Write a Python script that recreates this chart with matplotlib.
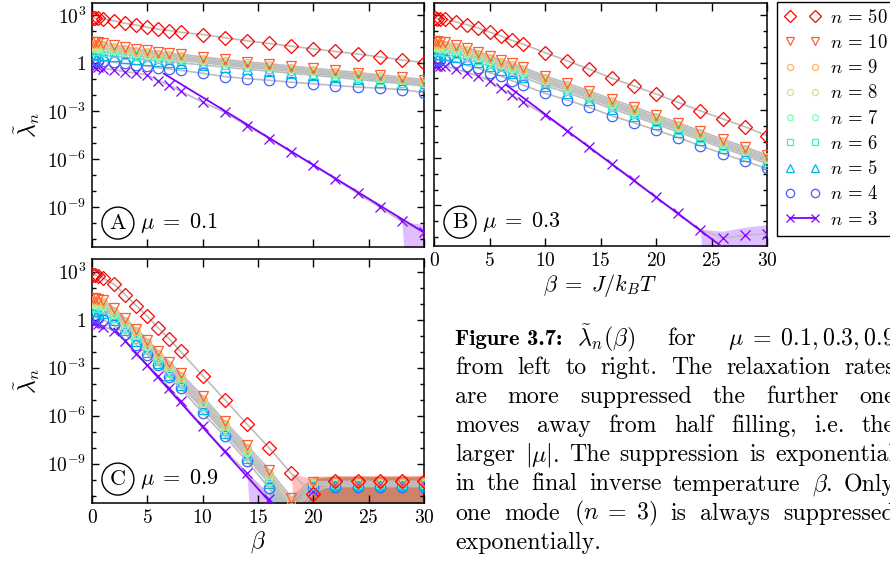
import numpy as np
import matplotlib.pyplot as plt
from matplotlib.lines import Line2D
from matplotlib.ticker import NullFormatter

plt.rcParams.update({
    "font.family": "serif",
    "font.serif": ["cmr10"],
    "mathtext.fontset": "cm",
    "axes.unicode_minus": False,
    "axes.linewidth": 1.1,
    "xtick.direction": "in",
    "ytick.direction": "in",
    "xtick.top": True,
    "ytick.right": True,
})

W, H = 890, 569

beta = [0.1, 0.3, 0.5, 1, 2, 3, 4, 5, 6, 7, 8, 10, 12, 14, 16, 18, 20, 22, 24, 26, 28, 30]

# log10 of the relaxation rates, mu = 0.1
mu01_n50 = [2.81, 2.80, 2.80, 2.78, 2.64, 2.48, 2.37, 2.23, 2.11, 2.03, 1.92, 1.78, 1.58, 1.39, 1.22, 1.05, 0.88, 0.72, 0.56, 0.38, 0.19, 0.02]
mu01_n10 = [1.34, 1.33, 1.31, 1.27, 1.12, 1.00, 0.88, 0.79, 0.70, 0.62, 0.55, 0.38, 0.22, 0.07, -0.05, -0.19, -0.33, -0.46, -0.60, -0.74, -0.88, -1.04]
mu01_n9 = [1.20, 1.19, 1.17, 1.13, 0.99, 0.88, 0.77, 0.68, 0.59, 0.52, 0.45, 0.28, 0.12, -0.03, -0.15, -0.29, -0.43, -0.56, -0.70, -0.84, -0.98, -1.14]
mu01_n8 = [1.05, 1.04, 1.02, 0.98, 0.86, 0.76, 0.65, 0.57, 0.48, 0.42, 0.35, 0.19, 0.03, -0.11, -0.23, -0.37, -0.51, -0.64, -0.78, -0.92, -1.06, -1.22]
mu01_n7 = [0.90, 0.89, 0.87, 0.84, 0.73, 0.63, 0.54, 0.46, 0.38, 0.32, 0.26, 0.11, -0.05, -0.19, -0.31, -0.45, -0.59, -0.72, -0.86, -1.00, -1.14, -1.30]
mu01_n6 = [0.75, 0.74, 0.72, 0.69, 0.60, 0.51, 0.43, 0.35, 0.28, 0.22, 0.16, 0.02, -0.13, -0.27, -0.39, -0.53, -0.67, -0.80, -0.94, -1.08, -1.22, -1.38]
mu01_n5 = [0.55, 0.54, 0.53, 0.50, 0.42, 0.34, 0.27, 0.19, 0.13, 0.07, 0.01, -0.12, -0.26, -0.39, -0.51, -0.64, -0.77, -0.90, -1.03, -1.16, -1.29, -1.45]
mu01_n4 = [0.18, 0.17, 0.15, 0.11, 0.04, -0.03, -0.10, -0.20, -0.30, -0.38, -0.46, -0.64, -0.85, -0.98, -1.08, -1.20, -1.30, -1.41, -1.50, -1.58, -1.66, -1.85]
mu01_n3 = [-0.20, -0.22, -0.25, -0.36, -0.42, -0.55, -0.63, -0.75, -1.10, -1.40, -1.76, -2.45, -3.08, -3.92, -4.72, -5.56, -6.39, -7.27, -8.15, -9.01, -9.90, -10.59]
mu01_noise = [0, 0, 0, 0, 0, 0, 0, 0, 0, 0, 0, 0, 0, 0, 0, 0, 0, 0, 0, 0, 0, 5.5e-11]
mu01_fit = ([6.5, 30], [-0.67, -10.59])

# mu = 0.3
mu03_n50 = [2.78, 2.77, 2.77, 2.76, 2.55, 2.38, 2.17, 1.92, 1.68, 1.40, 1.16, 0.63, 0.11, -0.42, -0.98, -1.47, -1.98, -2.51, -3.04, -3.55, -4.04, -4.60]
mu03_n10 = [1.34, 1.33, 1.31, 1.27, 1.12, 0.91, 0.69, 0.43, 0.17, -0.04, -0.30, -0.84, -1.31, -1.78, -2.32, -2.78, -3.30, -3.79, -4.31, -4.83, -5.31, -5.82]
mu03_n9 = [1.20, 1.19, 1.17, 1.13, 0.98, 0.78, 0.57, 0.31, 0.06, -0.15, -0.41, -0.96, -1.43, -1.91, -2.44, -2.91, -3.42, -3.91, -4.43, -4.95, -5.43, -5.93]
mu03_n8 = [1.05, 1.04, 1.02, 0.98, 0.84, 0.64, 0.44, 0.19, -0.06, -0.27, -0.52, -1.07, -1.54, -2.02, -2.55, -3.02, -3.53, -4.02, -4.54, -5.06, -5.54, -6.04]
mu03_n7 = [0.90, 0.89, 0.87, 0.84, 0.70, 0.51, 0.31, 0.07, -0.18, -0.39, -0.64, -1.18, -1.65, -2.13, -2.66, -3.13, -3.64, -4.13, -4.65, -5.16, -5.64, -6.14]
mu03_n6 = [0.75, 0.74, 0.72, 0.69, 0.56, 0.38, 0.18, -0.06, -0.30, -0.51, -0.76, -1.30, -1.76, -2.24, -2.77, -3.24, -3.75, -4.24, -4.76, -5.26, -5.74, -6.24]
mu03_n5 = [0.55, 0.54, 0.53, 0.50, 0.38, 0.20, 0.01, -0.22, -0.46, -0.67, -0.92, -1.45, -1.90, -2.38, -2.91, -3.37, -3.88, -4.37, -4.88, -5.38, -5.86, -6.36]
mu03_n4 = [0.18, 0.17, 0.16, 0.15, 0.06, -0.19, -0.36, -0.63, -0.84, -1.14, -1.41, -1.94, -2.36, -2.82, -3.35, -3.79, -4.25, -4.72, -5.24, -5.73, -6.21, -6.67]
mu03_n3 = [-0.22, -0.22, -0.22, -0.21, -0.42, -0.63, -0.84, -1.14, -1.62, -2.04, -2.46, -3.31, -4.32, -5.31, -6.36, -7.37, -8.47, -9.48, -10.53, -11.04, -10.88, -10.78]
mu03_noise = [0, 0, 0, 0, 0, 0, 0, 0, 0, 0, 0, 0, 0, 0, 0, 0, 0, 0, 3e-12, 1.5e-11, 3e-11, 4.5e-11]
mu03_fit = ([6.5, 30], [-1.41, -13.72])

# mu = 0.9
mu09_n50 = [2.80, 2.79, 2.76, 2.60, 2.22, 1.56, 0.89, 0.21, -0.52, -1.21, -1.98, -3.49, -4.99, -6.51, -8.00, -9.60, -10.87, -10.10, -10.10, -10.10, -10.10, -10.10]
mu09_n10 = [1.36, 1.34, 1.32, 1.25, 0.73, 0.10, -0.56, -1.25, -1.98, -2.64, -3.33, -4.78, -6.34, -7.84, -9.36, -11.12, -10.12, -10.12, -10.13, -10.12, -10.12, -10.12]
mu09_n9 = [1.22, 1.20, 1.18, 1.10, 0.58, -0.06, -0.72, -1.41, -2.14, -2.82, -3.50, -4.95, -6.50, -8.02, -9.55, -11.40, -10.15, -10.15, -10.15, -10.15, -10.15, -10.15]
mu09_n8 = [1.08, 1.06, 1.04, 0.95, 0.43, -0.21, -0.88, -1.56, -2.29, -2.98, -3.66, -5.11, -6.66, -8.18, -9.72, -11.70, -10.20, -10.18, -10.18, -10.18, -10.18, -10.18]
mu09_n7 = [0.93, 0.91, 0.89, 0.80, 0.28, -0.36, -1.03, -1.71, -2.43, -3.13, -3.81, -5.26, -6.81, -8.33, -9.88, -12.00, -10.25, -10.22, -10.22, -10.22, -10.22, -10.22]
mu09_n6 = [0.78, 0.76, 0.74, 0.65, 0.14, -0.51, -1.18, -1.85, -2.56, -3.28, -3.95, -5.41, -6.95, -8.48, -10.04, -12.20, -10.30, -10.27, -10.27, -10.27, -10.27, -10.27]
mu09_n5 = [0.58, 0.56, 0.54, 0.45, -0.02, -0.66, -1.33, -1.99, -2.68, -3.42, -4.08, -5.56, -7.08, -8.62, -10.20, -12.40, -10.35, -10.32, -10.32, -10.32, -10.32, -10.32]
mu09_n4 = [0.20, 0.18, 0.14, 0.00, -0.35, -0.89, -1.56, -2.18, -2.81, -3.60, -4.26, -5.82, -7.28, -8.84, -10.50, -12.50, -10.50, -10.42, -10.42, -10.42, -10.42, -10.42]
mu09_n3 = [-0.20, -0.22, -0.26, -0.42, -0.69, -1.31, -2.14, -2.81, -3.53, -4.26, -5.05, -6.65, -8.17, -9.56, -11.22, -13.00, -10.70, -10.33, -10.33, -10.33, -10.33, -10.33]
mu09_noise = [0, 0, 0, 0, 0, 0, 0, 0, 0, 0, 0, 0, 0, 0, 1e-11, 3e-12, 1e-10, 1e-10, 1e-10, 1e-10, 1e-10, 1e-10]
mu09_fit = ([2, 30], [-0.55, -22.11])

modes = [3, 4, 5, 6, 7, 8, 9, 10, 50]
markers = {50: "D", 10: "v", 9: "o", 8: "o", 7: "p", 6: "s", 5: "^", 4: "o", 3: "x"}
msizes = {50: 7.5, 10: 7.5, 9: 5.5, 8: 5.5, 7: 6, 6: 6, 5: 6.5, 4: 7.5, 3: 6.5}
colors = dict(zip(modes, plt.cm.rainbow(np.linspace(0, 1, len(modes)))))

panels = [
    dict(mu="0.1", tag="A", noise=mu01_noise, fit=mu01_fit,
         data={50: mu01_n50, 10: mu01_n10, 9: mu01_n9, 8: mu01_n8, 7: mu01_n7,
               6: mu01_n6, 5: mu01_n5, 4: mu01_n4, 3: mu01_n3},
         rect=(92, 3, 424, 247), ylim=(-11.5, 3.75)),
    dict(mu="0.3", tag="B", noise=mu03_noise, fit=mu03_fit,
         data={50: mu03_n50, 10: mu03_n10, 9: mu03_n9, 8: mu03_n8, 7: mu03_n7,
               6: mu03_n6, 5: mu03_n5, 4: mu03_n4, 3: mu03_n3},
         rect=(434, 3, 767, 246), ylim=(-11.55, 3.75)),
    dict(mu="0.9", tag="C", noise=mu09_noise, fit=mu09_fit,
         data={50: mu09_n50, 10: mu09_n10, 9: mu09_n9, 8: mu09_n8, 7: mu09_n7,
               6: mu09_n6, 5: mu09_n5, 4: mu09_n4, 3: mu09_n3},
         rect=(92, 259, 424, 503), ylim=(-11.45, 3.8)),
]

fig = plt.figure(figsize=(W / 100, H / 100), dpi=100)
b = np.array(beta)

axes = []
for p in panels:
    x0, y0, x1, y1 = p["rect"]
    ax = fig.add_axes([x0 / W, 1 - y1 / H, (x1 - x0) / W, (y1 - y0) / H])
    axes.append(ax)
    ax.set_yscale("log")
    noise = np.array(p["noise"])
    # error bands first, lowest mode at the bottom
    for n in modes:
        lam = 10.0 ** np.array(p["data"][n])
        lo = np.maximum(lam - noise, 1e-30)
        hi = lam + noise
        ax.fill_between(b, lo, hi, color=colors[n], alpha=0.25, lw=0)
    for n in modes:
        lam = 10.0 ** np.array(p["data"][n])
        ax.plot(b, lam, color="0.74", lw=1.2, zorder=2)
    fb, fl = p["fit"]
    ax.plot(fb, 10.0 ** np.array(fl), color=colors[3], lw=1.3, zorder=3)
    for n in modes:
        lam = 10.0 ** np.array(p["data"][n])
        ax.plot(b, lam, ls="none", marker=markers[n], ms=msizes[n], mec=colors[n],
                mfc="none", mew=0.9, zorder=4)

    ax.set_xlim(0, 30)
    ax.set_ylim(10.0 ** p["ylim"][0], 10.0 ** p["ylim"][1])
    ax.set_xticks([0, 5, 10, 15, 20, 25, 30])
    ax.set_yticks([1e3, 1, 1e-3, 1e-6, 1e-9])
    ax.set_yticks([10.0 ** k for k in range(-11, 4)], minor=True)
    ax.yaxis.set_minor_formatter(NullFormatter())
    ax.set_yticklabels([r"$10^{3}$", r"$1$", r"$10^{-3}$", r"$10^{-6}$", r"$10^{-9}$"])
    ax.set_xticklabels([rf"${v}$" for v in [0, 5, 10, 15, 20, 25, 30]])
    ax.tick_params(which="major", length=5, width=1, labelsize=14, pad=4)
    ax.tick_params(which="minor", length=3, width=1)
    ax.tick_params(axis="x", length=6)

    ax.text(0.078, 0.098, p["tag"], transform=ax.transAxes, ha="center", va="center",
            fontsize=16, bbox=dict(boxstyle="circle,pad=0.28", fc="none", ec="k", lw=1))
    ax.text(0.145, 0.098, rf"$\mu\;=\;{p['mu']}$", transform=ax.transAxes,
            ha="left", va="center", fontsize=16)

ax_a, ax_b, ax_c = axes
ax_a.tick_params(labelbottom=False)
ax_b.tick_params(labelleft=False)
ax_a.set_ylabel(r"$\tilde{\lambda}_n$", fontsize=17)
ax_c.set_ylabel(r"$\tilde{\lambda}_n$", fontsize=17)
ax_c.set_xlabel(r"$\beta$", fontsize=17, labelpad=2)
ax_b.set_xlabel(r"$\beta\;=\;J/k_BT$", fontsize=16, labelpad=2)

handles = []
labels = []
for n in modes[::-1]:
    handles.append(Line2D([], [], ls="-" if n == 3 else "none", color=colors[n],
                          marker=markers[n], ms=msizes[n] * 0.8, mec=colors[n],
                          mfc="none", mew=0.9, lw=1.3))
    labels.append(rf"$n\,=\,{n}$")
leg_fs = 13.5
fig.legend(handles, labels, loc="upper left", bbox_to_anchor=(777 / W, 1 - 1.5 / H),
           numpoints=2, fontsize=leg_fs, frameon=True, fancybox=False, edgecolor="k",
           framealpha=1, borderpad=0.39, handlelength=1.93, handletextpad=0.5,
           labelspacing=0.385, borderaxespad=0)

# caption, justified by hand
renderer = fig.canvas.get_renderer()
cap_size = 17.2
x_left, x_right = 455, 895


def put_words(words, y, x_start, x_end, justify=True):
    texts = [fig.text(0, 1 - y / H, w, fontsize=cap_size, va="baseline") for w in words]
    widths = [t.get_window_extent(renderer).width for t in texts]
    if justify and len(words) > 1:
        gap = (x_end - x_start - sum(widths)) / (len(words) - 1)
    else:
        gap = 6.0
    x = x_start
    for t, wd in zip(texts, widths):
        t.set_x(x / W)
        x += wd + gap


cap_lines = [
    "from left to right.  The relaxation rates",
    "are more suppressed the further one",
    "moves away from half filling, i.e. the",
    r"larger $|\mu|$. The suppression is exponential",
    r"in the final inverse temperature $\beta$. Only",
    r"one mode $(n\;=\;3)$ is always suppressed",
    "exponentially.",
]
base_y = 345
step = 29.1
fig.text(x_left / W, 1 - base_y / H, "Figure 3.7:", fontsize=16.3,
         fontfamily="cmb10", va="baseline")
put_words([r"$\tilde{\lambda}_n(\beta)$", "for", r"$\mu\;=\;0.1,0.3,0.9$"],
          base_y, 577, x_right)
for i, line in enumerate(cap_lines):
    words = [w for w in line.split(" ") if w]
    put_words(words, base_y + step * (i + 1), x_left, x_right,
              justify=(i < len(cap_lines) - 1))

fig.savefig("out.png", dpi=100)
